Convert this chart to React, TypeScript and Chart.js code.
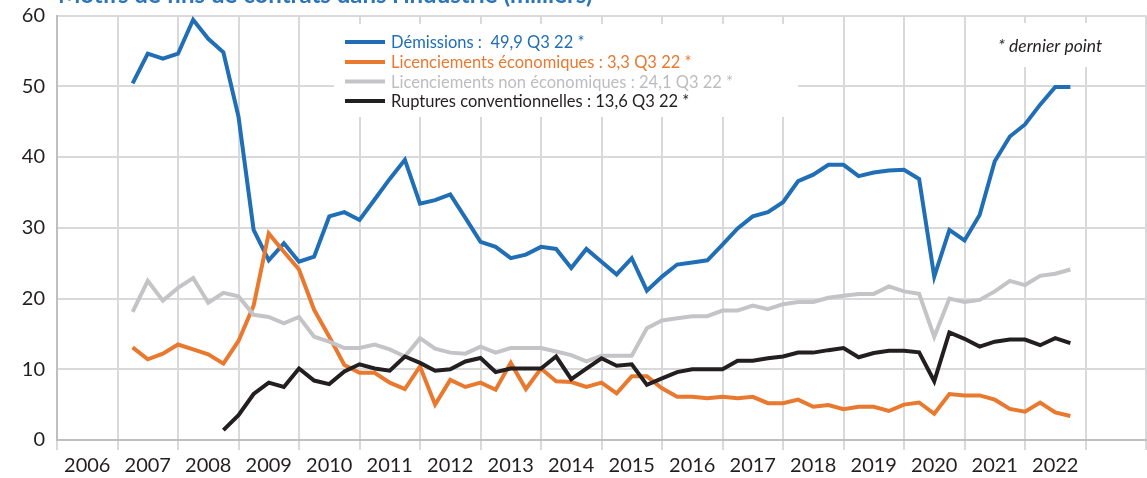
import React, { useEffect, useRef } from 'react';
import { Chart, registerables } from 'chart.js';

Chart.register(...registerables);

// ---- data (quarterly, thousands) ----
const yearLabels = [2006, 2007, 2008, 2009, 2010, 2011, 2012, 2013, 2014, 2015, 2016, 2017, 2018, 2019, 2020, 2021, 2022];

// Démissions: 2007 Q1 .. 2022 Q3
const demissionsStart = { year: 2007, quarter: 1 };
const demissions = [
  50.4, 54.6, 53.9, 54.6,
  59.4, 56.7, 54.8, 45.7,
  29.7, 25.4, 27.8, 25.2,
  25.9, 31.6, 32.2, 31.1,
  34.0, 36.9, 39.6, 33.4,
  33.9, 34.7, 31.4, 28.0,
  27.3, 25.7, 26.2, 27.3,
  27.0, 24.3, 27.0, 25.2,
  23.4, 25.7, 21.1, 23.1,
  24.8, 25.1, 25.4, 27.6,
  29.9, 31.6, 32.2, 33.6,
  36.6, 37.5, 38.9, 38.9,
  37.3, 37.8, 38.1, 38.2,
  36.9, 23.1, 29.7, 28.2,
  31.8, 39.4, 42.9, 44.6,
  47.4, 49.9, 49.9,
];

// Licenciements économiques: 2007 Q1 .. 2022 Q3
const licEcoStart = { year: 2007, quarter: 1 };
const licEco = [
  13.1, 11.4, 12.2, 13.5,
  12.8, 12.1, 10.8, 14.0,
  19.0, 29.2, 26.6, 24.1,
  18.4, 14.6, 10.6, 9.5,
  9.5, 8.1, 7.2, 10.4,
  5.0, 8.5, 7.5, 8.1,
  7.1, 10.9, 7.2, 10.1,
  8.3, 8.2, 7.5, 8.1,
  6.6, 9.0, 9.0, 7.3,
  6.1, 6.1, 5.9, 6.1,
  5.9, 6.1, 5.2, 5.2,
  5.7, 4.7, 4.95, 4.35,
  4.7, 4.7, 4.1, 5.0,
  5.3, 3.7, 6.5, 6.3,
  6.3, 5.7, 4.4, 4.0,
  5.3, 3.9, 3.4,
];

// Licenciements non économiques: 2007 Q1 .. 2022 Q3
const licNonEcoStart = { year: 2007, quarter: 1 };
const licNonEco = [
  18.1, 22.5, 19.7, 21.5,
  22.9, 19.4, 20.8, 20.3,
  17.7, 17.4, 16.5, 17.4,
  14.6, 13.9, 13.0, 13.0,
  13.5, 12.8, 11.8, 14.4,
  12.9, 12.35, 12.2, 13.2,
  12.35, 13.0, 13.0, 13.0,
  12.5, 12.0, 11.1, 11.9,
  11.9, 11.9, 15.8, 16.9,
  17.2, 17.5, 17.5, 18.3,
  18.3, 19.0, 18.5, 19.2,
  19.5, 19.5, 20.1, 20.4,
  20.65, 20.65, 21.7, 21.0,
  20.65, 14.6, 20.0, 19.5,
  19.8, 21.0, 22.5, 21.9,
  23.2, 23.5, 24.1,
];

// Ruptures conventionnelles: 2008 Q3 .. 2022 Q3
const rupturesStart = { year: 2008, quarter: 3 };
const ruptures = [
  1.4, 3.5,
  6.5, 8.1, 7.5, 10.1,
  8.4, 7.9, 9.7, 10.7,
  10.1, 9.8, 11.8, 10.9,
  9.8, 10.0, 11.1, 11.6,
  9.6, 10.1, 10.1, 10.1,
  11.8, 8.6, 10.1, 11.55,
  10.5, 10.7, 7.8, 8.7,
  9.6, 10.0, 10.0, 10.0,
  11.2, 11.2, 11.55, 11.8,
  12.35, 12.35, 12.7, 13.0,
  11.7, 12.3, 12.6, 12.6,
  12.4, 8.3, 15.2, 14.3,
  13.2, 13.9, 14.2, 14.2,
  13.4, 14.4, 13.7,
];

const seriesNames = [
  'Démissions :  49,9 Q3 22 *',
  'Licenciements économiques : 3,3 Q3 22 *',
  'Licenciements non économiques : 24,1 Q3 22 *',
  'Ruptures conventionnelles : 13,6 Q3 22 *',
];
const seriesColors = ['#1F6EB6', '#E8792F', '#C4C4C7', '#231F20'];
const legendTextColors = ['#1F6EB6', '#E8792F', '#BDBDC0', '#231F20'];

const titleText = "Motifs de fins de contrats dans l'industrie (milliers)";
const noteText = '* dernier point';

const FONT = 'Lato, "Open Sans", sans-serif';

function toPoints(vals: number[], start: { year: number; quarter: number }) {
  return vals.map((v, i) => ({ x: start.year + (start.quarter + i) / 4, y: v }));
}

const overlayPlugin = {
  id: 'overlay',
  beforeDatasetsDraw(chart: any) {
    const ctx = chart.ctx as CanvasRenderingContext2D;
    ctx.save();
    // white boxes behind legend and note
    ctx.fillStyle = '#ffffff';
    ctx.fillRect(334, 24, 464, 93);
    ctx.fillRect(975, 23, 140, 44);
    ctx.restore();
  },
  afterDraw(chart: any) {
    const ctx = chart.ctx as CanvasRenderingContext2D;
    ctx.save();
    // title (cut at top)
    ctx.fillStyle = '#2E75B6';
    ctx.font = `bold 24px ${FONT}`;
    ctx.textBaseline = 'alphabetic';
    ctx.textAlign = 'left';
    ctx.fillText(titleText, 58, 3);

    // legend
    const rows = [42, 62, 81.5, 101];
    ctx.font = `16.5px ${FONT}`;
    ctx.textBaseline = 'middle';
    seriesNames.forEach((name, i) => {
      ctx.strokeStyle = seriesColors[i];
      ctx.lineWidth = 4;
      ctx.beginPath();
      ctx.moveTo(345, rows[i]);
      ctx.lineTo(385, rows[i]);
      ctx.stroke();
      ctx.fillStyle = legendTextColors[i];
      ctx.fillText(name, 391, rows[i] + 1);
    });

    // note
    ctx.font = `italic 17.5px ${FONT}`;
    ctx.fillStyle = '#231F20';
    ctx.textBaseline = 'alphabetic';
    ctx.fillText(noteText, 998, 52);
    ctx.restore();
  },
};

export default function App() {
  const canvasRef = useRef<HTMLCanvasElement | null>(null);

  useEffect(() => {
    if (!canvasRef.current) return;
    const datasets = [
      { data: toPoints(demissions, demissionsStart), order: 3 },
      { data: toPoints(licEco, licEcoStart), order: 2 },
      { data: toPoints(licNonEco, licNonEcoStart), order: 1 },
      { data: toPoints(ruptures, rupturesStart), order: 0 },
    ].map((d, i) => ({
      label: seriesNames[i],
      data: d.data,
      order: d.order,
      borderColor: seriesColors[i],
      backgroundColor: seriesColors[i],
      borderWidth: 4,
      pointRadius: 0,
      tension: 0,
      fill: false,
      borderJoinStyle: 'miter' as const,
    }));

    const chart = new Chart(canvasRef.current, {
      type: 'line',
      data: { datasets },
      options: {
        animation: false,
        responsive: false,
        maintainAspectRatio: false,
        layout: { padding: { top: 15.5, right: 1, left: 0, bottom: 0 } },
        plugins: {
          legend: { display: false },
          title: { display: false },
          tooltip: { enabled: false },
        },
        scales: {
          x: {
            type: 'linear',
            min: 2006,
            max: 2024,
            afterFit: (s: any) => {
              s.height = 38;
              s.paddingLeft = 0;
              s.paddingRight = 0;
            },
            ticks: {
              stepSize: 1,
              autoSkip: false,
              maxRotation: 0,
              labelOffset: 30.25,
              padding: 4,
              color: '#231F20',
              font: { family: FONT, size: 20 },
              callback: (v: any) => (yearLabels.includes(Number(v)) ? String(v) : ''),
            },
            grid: {
              color: '#D9D9DB',
              lineWidth: 2,
              tickLength: 10,
              drawTicks: true,
            },
            border: { color: '#BFBFC2', width: 2 },
          },
          y: {
            min: 0,
            max: 60,
            afterFit: (s: any) => {
              s.width = 57;
              s.paddingTop = 0;
              s.paddingBottom = 0;
            },
            ticks: {
              stepSize: 10,
              padding: 12,
              color: '#231F20',
              font: { family: FONT, size: 20 },
            },
            grid: {
              color: '#D9D9DB',
              lineWidth: 2,
              drawTicks: false,
            },
            border: { color: '#BFBFC2', width: 2 },
          },
        },
      },
      plugins: [overlayPlugin],
    });
    return () => chart.destroy();
  }, []);

  return (
    <div style={{ position: 'fixed', left: 0, top: 0, width: 1147, height: 478, background: '#fff' }}>
      <canvas ref={canvasRef} width={1147} height={478} style={{ display: 'block' }} />
    </div>
  );
}
